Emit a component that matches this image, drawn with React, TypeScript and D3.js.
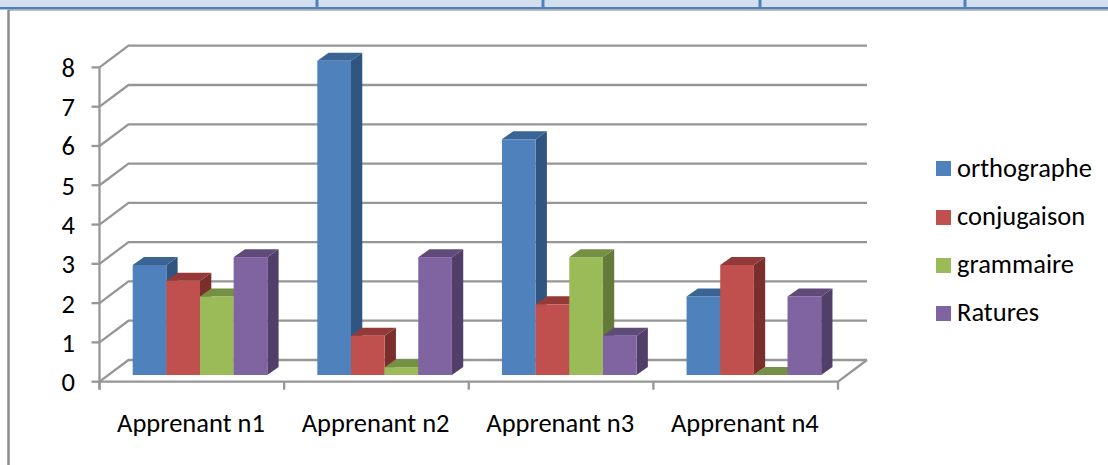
import React from "react";
import * as d3 from "d3";

const categories = ["Apprenant n1", "Apprenant n2", "Apprenant n3", "Apprenant n4"];
const seriesNames = ["orthographe", "conjugaison", "grammaire", "Ratures"];
const orthographe = [2.8, 8, 6, 2];
const conjugaison = [2.4, 1, 1.8, 2.8];
const grammaire = [2, 0.2, 3, 0];
const ratures = [3, 3, 1, 2];
const seriesValues = [orthographe, conjugaison, grammaire, ratures];
const ticks = [0, 1, 2, 3, 4, 5, 6, 7, 8];
const frontColors = ["#4f81bd", "#c0504d", "#9bbb59", "#8064a2"];
const topColors = ["#3a6493", "#933a38", "#749044", "#5f4a7a"];
const sideColors = ["#2f5580", "#7a2f2d", "#637a3a", "#523f69"];
const topBandStops = [317, 543, 760, 965];

const FONT = "Carlito, Calibri, 'Open Sans', sans-serif";
const GRID = "#969696";

const App: React.FC = () => {
  const x = d3.scaleBand<string>().domain(categories).range([99.5, 838]);
  const y = d3.scaleLinear().domain([0, 8]).range([381.7, 67.4]);
  const unit = y(0) - y(1);
  const wallDx = 29;
  const wallDy = -21.7;
  const barDx = 11.3;
  const barDy = -8;
  const barBase = 375;
  const barInset = 33.2;
  const barW = 33.65;
  const legendTop = [161, 210, 258, 306];
  const legendBase = [176.5, 225, 273, 321];

  return (
    <svg width={1108} height={465} style={{ position: "absolute", left: 0, top: 0, background: "#fff" }} fontFamily={FONT}>
      {/* bits of the page around the chart */}
      <rect x={0} y={0} width={1108} height={7} fill="#d3dfee" />
      <rect x={0} y={7} width={1108} height={2.5} fill="#4f81bd" />
      {topBandStops.map((s) => (
        <rect key={s} x={s - 1.5} y={0} width={3} height={8} fill="#4f81bd" />
      ))}
      <line x1={8} x2={1108} y1={10} y2={10} stroke="#a6a6a6" strokeWidth={1.5} />
      <line x1={8.5} x2={8.5} y1={10} y2={465} stroke="#8c8c8c" strokeWidth={2.5} />

      {/* gridlines on wall and side */}
      {ticks.map((t) => (
        <g key={t} fill="none" stroke={GRID} strokeWidth={2.3}>
          <polyline
            points={`${x.range()[0]},${y(t)} ${x.range()[0] + wallDx},${y(t) + wallDy} ${x.range()[1] + wallDx},${y(t) + wallDy}`}
          />
          <line x1={91.5} x2={x.range()[0]} y1={y(t)} y2={y(t)} />
        </g>
      ))}
      <line x1={x.range()[0]} x2={x.range()[0]} y1={y(8)} y2={y(0) + 8} stroke={GRID} strokeWidth={2.3} />
      <polyline
        points={`${x.range()[0]},${y(0)} ${x.range()[1]},${y(0)} ${x.range()[1] + wallDx},${y(0) + wallDy}`}
        fill="none"
        stroke={GRID}
        strokeWidth={2.3}
      />
      {categories.concat("").map((c, i) => {
        const tx = i < categories.length ? x(c)! : x.range()[1];
        return <line key={i} x1={tx} x2={tx} y1={y(0)} y2={y(0) + 8} stroke={GRID} strokeWidth={2.3} />;
      })}

      {/* bars, left to right so each one covers the side of the previous */}
      {categories.map((c, ci) =>
        seriesValues.map((vals, si) => {
          const v = vals[ci];
          const h = v * unit;
          const bx = x(c)! + barInset + si * barW;
          const by = barBase - h;
          return (
            <g key={c + si}>
              <path
                d={`M${bx + barW},${by} l${barDx},${barDy} v${h} l${-barDx},${-barDy} z`}
                fill={sideColors[si]}
              />
              <path
                d={`M${bx},${by} l${barDx},${barDy} h${barW} l${-barDx},${-barDy} z`}
                fill={topColors[si]}
              />
              <rect x={bx} y={by} width={barW} height={h} fill={frontColors[si]} />
            </g>
          );
        })
      )}

      {/* value axis labels */}
      {ticks.map((t) => (
        <text key={t} x={75} y={y(t) + 9.5} fontSize={26.5} textAnchor="end" fill="#000">
          {t}
        </text>
      ))}

      {/* category labels */}
      {categories.map((c) => (
        <text key={c} x={x(c)! + x.bandwidth() / 2 - 0.8} y={431.5} fontSize={26.5} textAnchor="middle" fill="#000">
          {c}
        </text>
      ))}

      {/* legend */}
      {seriesNames.map((n, i) => (
        <g key={n}>
          <rect x={936} y={legendTop[i]} width={15} height={15} fill={frontColors[i]} />
          <text x={957} y={legendBase[i]} fontSize={26.5} fill="#000">
            {n}
          </text>
        </g>
      ))}
    </svg>
  );
};

export default App;
